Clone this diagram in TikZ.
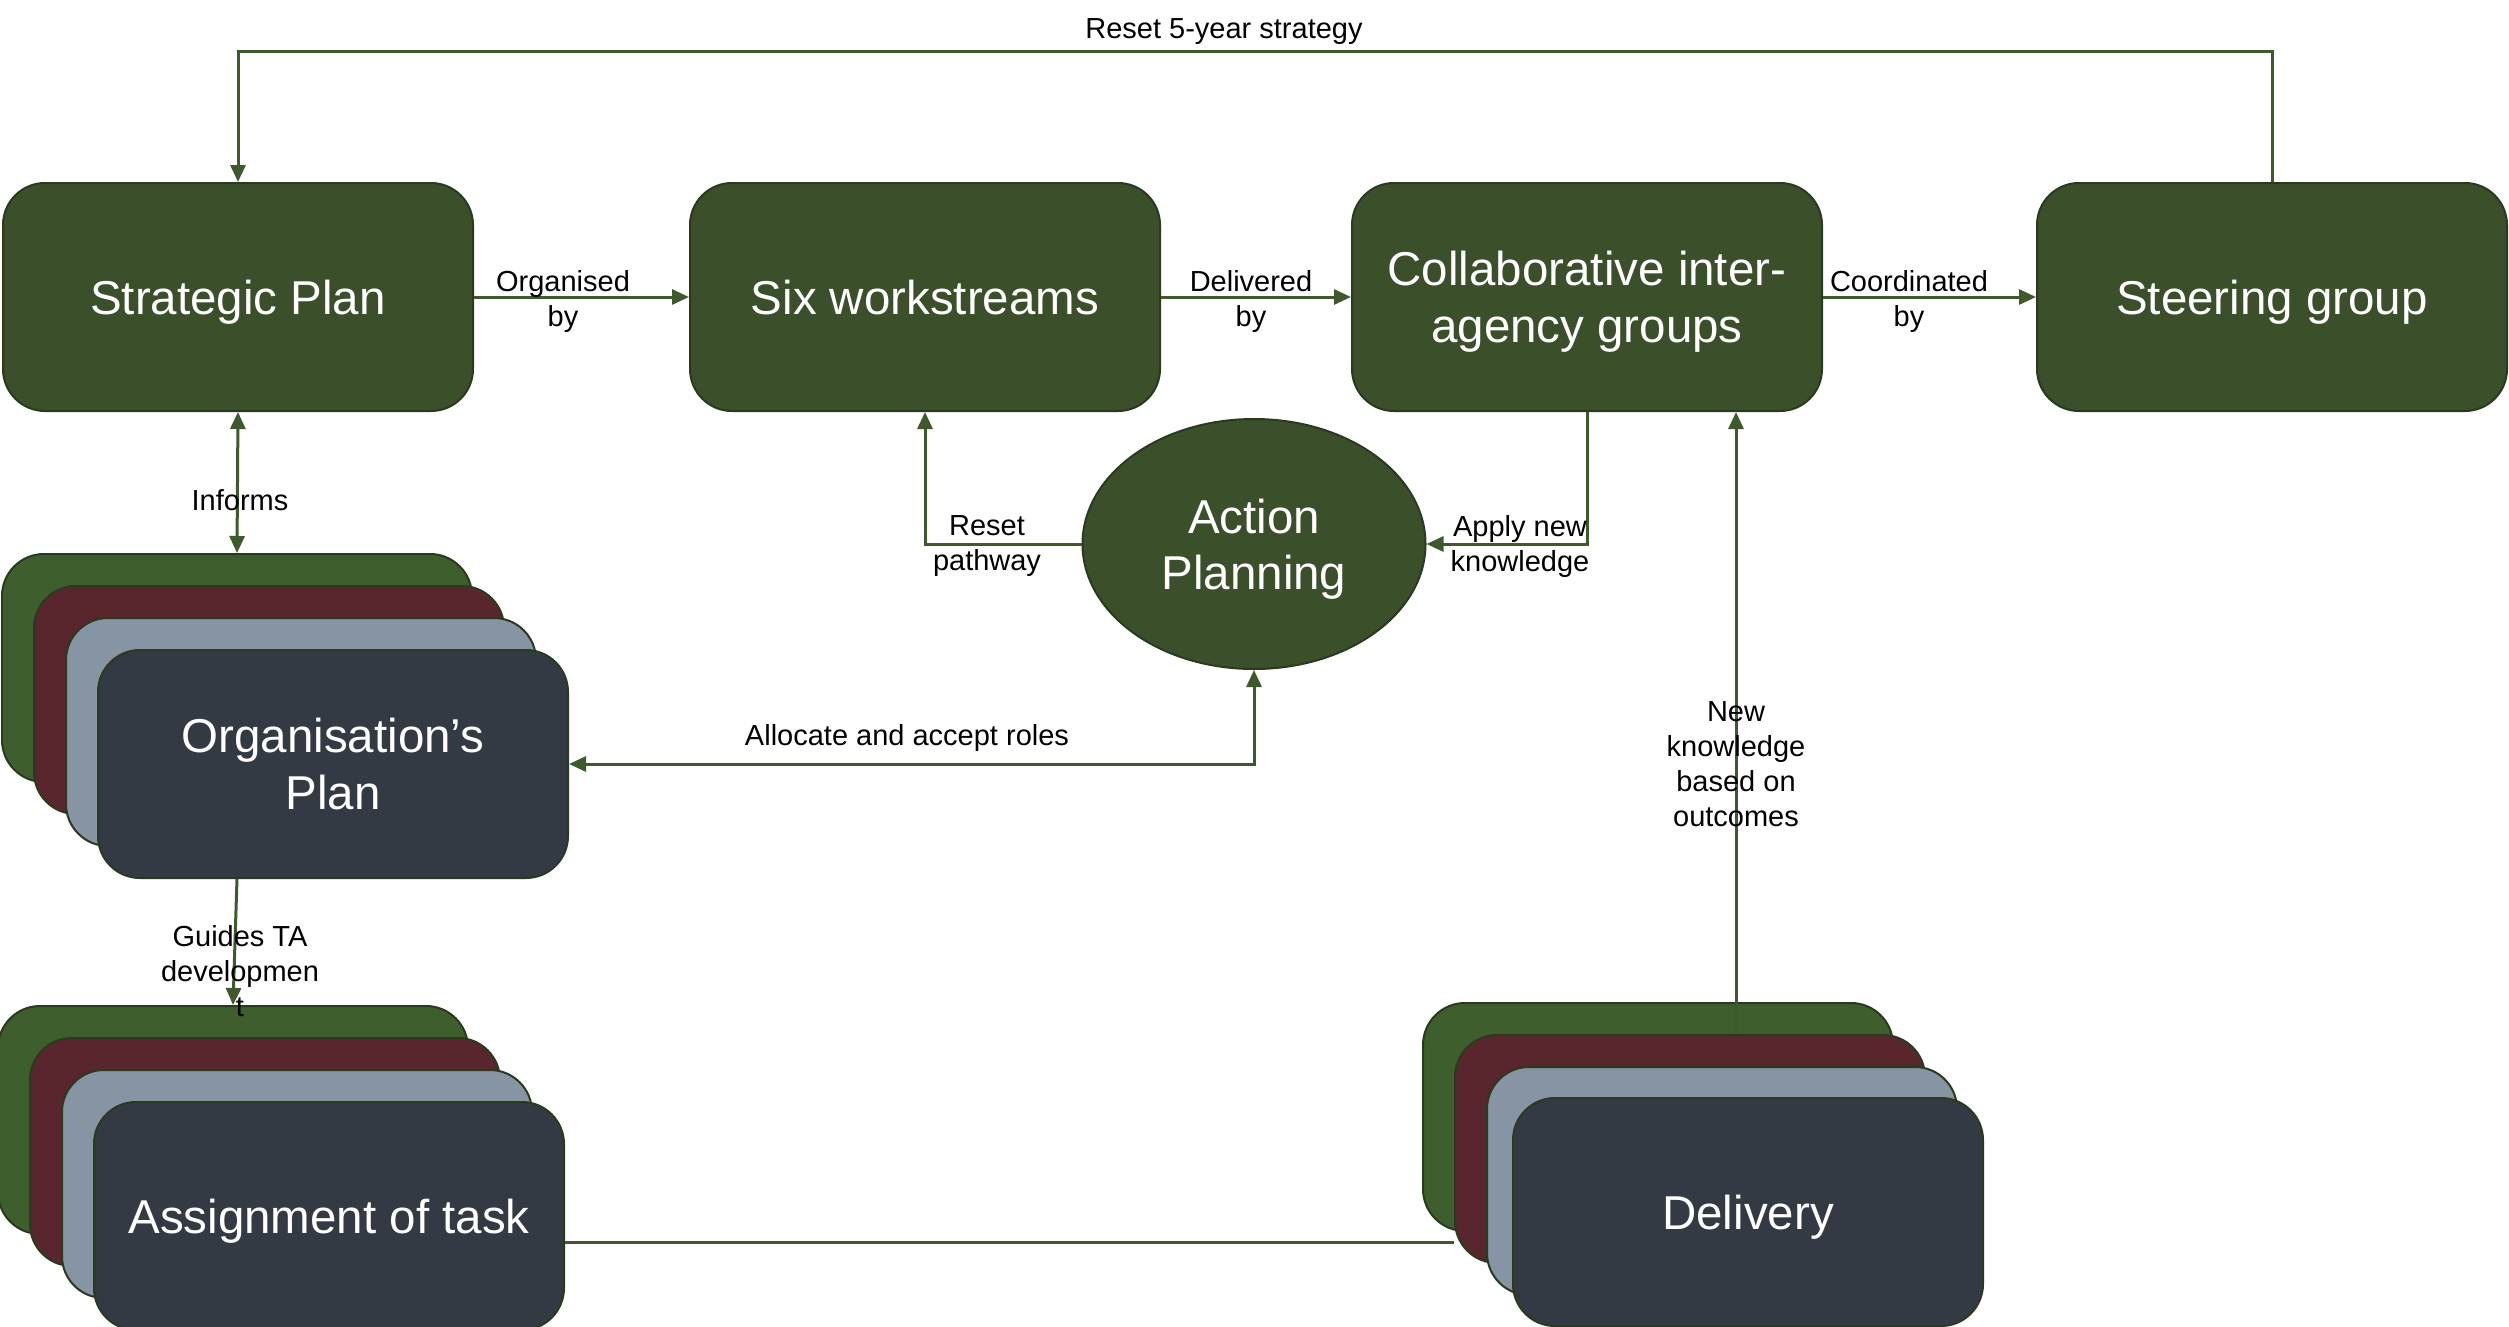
\documentclass[tikz,border=0pt]{standalone}
\usepackage{fontspec}
\setmainfont{Liberation Sans}
\usetikzlibrary{arrows.meta,shapes.geometric}
\definecolor{boxgreen}{HTML}{3B4F2B}
\definecolor{stkgreen}{HTML}{3E5E2D}
\definecolor{stkred}{HTML}{5A262D}
\definecolor{stkgray}{HTML}{8694A3}
\definecolor{stkdark}{HTML}{333A43}
\definecolor{bord}{HTML}{2A3A1E}
\definecolor{conn}{HTML}{3E5A2D}
\tikzset{
  box/.style={rectangle, rounded corners=42pt, draw=bord, line width=2pt,
    minimum width=470pt, minimum height=228pt, inner sep=0pt, text depth=0pt,
    text=white, align=center, font=\fontsize{47.5}{57}\selectfont},
  mainbox/.style={box, fill=boxgreen},
  gbox/.style={box, fill=stkgreen},
  rbox/.style={box, fill=stkred},
  ybox/.style={box, fill=stkgray},
  dbox/.style={box, fill=stkdark},
  conline/.style={draw=conn, line width=3pt},
  arr/.style={conline, -{Triangle[length=17pt,width=15pt]}},
  darr/.style={conline, {Triangle[length=17pt,width=15pt]}-{Triangle[length=17pt,width=15pt]}},
  lbl/.style={text=black, align=center, inner sep=0pt, font=\fontsize{29}{35}\selectfont}
}
\begin{document}
\begin{tikzpicture}[x=1pt,y=-1pt]
\useasboundingbox[fill=white] (0,0) rectangle (2509,1326);

% top row
\node[mainbox] (sp) at (238,297) {Strategic Plan};
\node[mainbox] (sw) at (925,297) {Six workstreams};
\node[mainbox] (cg) at (1587,297) {Collaborative inter-\\agency groups};
\node[mainbox] (sg) at (2272,297) {Steering group};

% action planning
\node[ellipse, draw=bord, line width=2pt, fill=boxgreen, minimum width=343pt,
  minimum height=250pt, inner sep=0pt, text depth=0pt, text=white, align=center,
  font=\fontsize{47.5}{56}\selectfont] (ap) at (1254,544) {Action\\Planning};

% organisation's plan stack
\node[gbox] (og1) at (237,668) {};
\node[rbox] (og2) at (269,700) {};
\node[ybox] (og3) at (301,732) {};
\node[dbox] (og4) at (333,764) {Organisation’s\\Plan};

% assignment stack
\node[gbox] (as1) at (233,1120) {};
\node[rbox] (as2) at (265,1152) {};
\node[ybox] (as3) at (297,1184) {};
\node[dbox] (as4) at (329,1216) {Assignment of task};

% delivery stack
\node[gbox] (dl1) at (1658,1117) {};
\node[rbox] (dl2) at (1690,1149) {};
\node[ybox] (dl3) at (1722,1181) {};
\node[dbox] (dl4) at (1748,1212) {Delivery};

\coordinate (topy) at (0,51);
\coordinate (nkx) at (1736,0);

% connectors
\draw[arr] (sg.north) -- (sg.north |- topy) -| (sp.north);
\node[lbl] (l1) at (1224,32) {Reset 5-year strategy};

\draw[arr] (sp.east) -- (sw.west);
\node[lbl] (l2) at (563,301) {Organised\\by};
\draw[arr] (sw.east) -- (cg.west);
\node[lbl] (l3) at (1251,301) {Delivered\\by};
\draw[arr] (cg.east) -- (sg.west);
\node[lbl] (l4) at (1909,301) {Coordinated\\by};

\draw[darr] (sp.south) -- (og1.north);
\node[lbl] (l5) at (240,500) {Informs};

\draw[darr] (ap.south) |- (og4.east);
\node[lbl] (l6) at (907,738) {Allocate and accept roles};

\draw[arr] (og4.south -| og1.center) -- (as1.north);
\node[lbl] (l7) at (240,971) {Guides TA\\developmen\\t};

\draw[conline] ([yshift=-26pt]as4.east) -- ([yshift=-26pt]as4.east -| dl2.west);

\draw[arr] (dl2.north -| nkx) -- (cg.south -| nkx);
\node[lbl] (l8) at (1736,764) {New\\knowledge\\based on\\outcomes};

\draw[arr] (ap.west) -| (sw.south);
\node[lbl] (l9) at (987,546) {Reset\\pathway};

\draw[arr] (cg.south) |- (ap.east);
\node[lbl] (l10) at (1520,546) {Apply new\\knowledge};
\end{tikzpicture}
\end{document}
